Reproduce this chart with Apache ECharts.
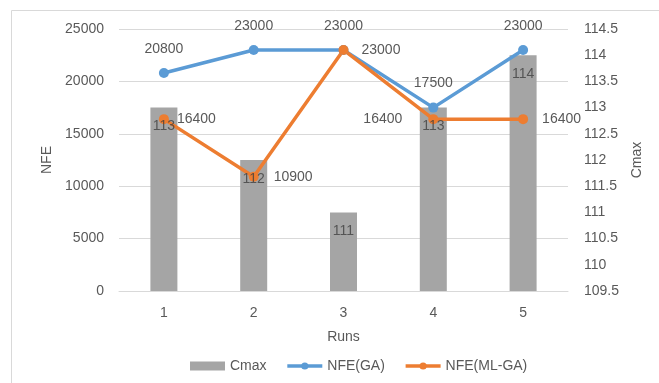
<!DOCTYPE html>
<html>
<head>
<meta charset="utf-8">
<script src="https://cdn.jsdelivr.net/npm/echarts@6/dist/echarts.min.js"></script>
<style>
	html, body { margin: 0; padding: 0; background: #fff; }
	#chart { width: 659px; height: 383px; }
</style>
</head>
<body>
<div id="chart"></div>
<script>
// 数据
const runs = ['1', '2', '3', '4', '5']
const cmax = [113, 112, 111, 113, 114]
const nfeGA = [20800, 23000, 23000, 17500, 23000]
const nfeMLGA = [16400, 10900, 23000, 16400, 16400]

// 标签位置（ML-GA 各点）
const mlgaLabelPos = ['right', 'right', 'right', 'left', 'right']
const mlgaLabelDist = [8, 15, 13, 26, 14]

const textColor = '#595959'
const fontFamily = 'Liberation Sans, Arial, sans-serif'
const fontSize = 14

const myEchart = echarts.init(document.getElementById('chart'))
const option = {
	animation: false,
	textStyle: { fontFamily: fontFamily },
	graphic: [
		{
			type: 'polyline',
			shape: { points: [[11.5, 383], [11.5, 10.5], [659, 10.5]] },
			style: { stroke: '#d9d9d9', lineWidth: 1, fill: null }
		}
	],
	grid: {
		left: 119,
		right: 91,
		top: 29,
		bottom: 92
	},
	legend: {
		left: 185,
		top: 354,
		itemWidth: 35,
		itemHeight: 9,
		itemGap: 19,
		lineStyle: { width: 3.5 },
		textStyle: { color: textColor, fontSize: fontSize, fontFamily: fontFamily },
		data: [
			{ name: 'Cmax', icon: 'rect' },
			{ name: 'NFE(GA)' },
			{ name: 'NFE(ML-GA)' }
		]
	},
	xAxis: {
		type: 'category',
		data: runs,
		name: 'Runs',
		nameLocation: 'middle',
		nameGap: 39,
		nameTextStyle: { color: textColor, fontSize: fontSize },
		axisLine: { lineStyle: { color: '#d9d9d9' } },
		axisTick: { show: false },
		axisLabel: { color: textColor, fontSize: fontSize, margin: 15 }
	},
	yAxis: [
		{
			type: 'value',
			min: 0,
			max: 25000,
			interval: 5000,
			name: 'NFE',
			nameLocation: 'middle',
			nameGap: 62,
			nameTextStyle: { color: textColor, fontSize: fontSize },
			axisLine: { show: false },
			axisTick: { show: false },
			axisLabel: { color: textColor, fontSize: fontSize, margin: 15, formatter: v => String(v) },
			splitLine: { lineStyle: { color: '#d9d9d9' } }
		},
		{
			type: 'value',
			min: 109.5,
			max: 114.5,
			interval: 0.5,
			name: 'Cmax',
			nameLocation: 'middle',
			nameGap: 61,
			nameTextStyle: { color: textColor, fontSize: fontSize },
			axisLine: { show: false },
			axisTick: { show: false },
			axisLabel: { color: textColor, fontSize: fontSize, margin: 16 },
			splitLine: { show: false }
		}
	],
	series: [
		{
			name: 'Cmax',
			type: 'bar',
			yAxisIndex: 1,
			barWidth: 27,
			itemStyle: { color: '#a5a5a5' },
			data: cmax
		},
		{
			name: 'NFE(GA)',
			type: 'line',
			yAxisIndex: 0,
			symbol: 'circle',
			symbolSize: 10,
			color: '#5b9bd5',
			lineStyle: { width: 3.5 },
			label: {
				show: true,
				position: 'top',
				distance: 12,
				color: textColor,
				fontSize: fontSize
			},
			data: nfeGA
		},
		{
			name: 'NFE(ML-GA)',
			type: 'line',
			yAxisIndex: 0,
			symbol: 'circle',
			symbolSize: 10,
			color: '#ed7d31',
			lineStyle: { width: 3.5 },
			data: nfeMLGA.map((v, i) => ({
				value: v,
				label: {
					show: true,
					position: mlgaLabelPos[i],
					distance: mlgaLabelDist[i],
					color: textColor,
					fontSize: fontSize
				}
			}))
		},
		{
			// Cmax 数值标签，画在折线之上
			name: 'CmaxLabel',
			type: 'scatter',
			yAxisIndex: 1,
			z: 5,
			symbolSize: 0,
			silent: true,
			label: {
				show: true,
				position: 'bottom',
				distance: 12,
				color: '#404040',
				fontSize: fontSize
			},
			data: cmax
		}
	]
}
myEchart.setOption(option)
</script>
</body>
</html>
